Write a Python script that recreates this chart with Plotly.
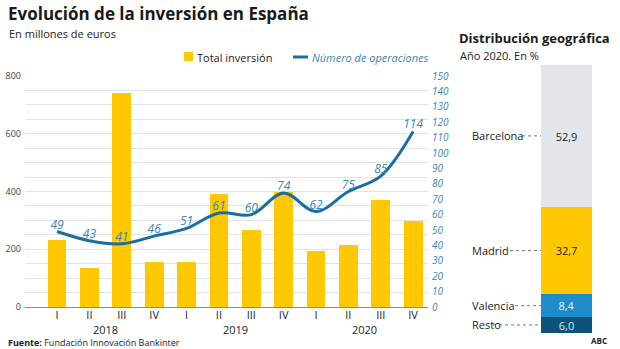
import numpy as np
import plotly.graph_objects as go

# Quarterly investment (millions of euros) and number of deals
quarters = ["I", "II", "III", "IV"] * 3
years = ["2018", "2019", "2020"]
inversion = [232, 135, 742, 157, 157, 390, 268, 399, 194, 214, 371, 299]
operaciones = [49, 43, 41, 46, 51, 61, 60, 74, 62, 75, 85, 114]

# Geographic distribution 2020 (%), bottom to top
regiones = ["Resto", "Valencia", "Madrid", "Barcelona"]
porcentajes = [6.0, 8.4, 32.7, 52.9]
colores_region = ["#0B5378", "#1C8CCB", "#FFC800", "#E3E6EA"]
texto_region = ["#DDEBF5", "#E8F3FA", "#222222", "#222222"]

W, H = 620, 349
FONT = "Open Sans"
YELLOW = "#FFC800"
LINE_BLUE = "#1B6E9F"
TEXT_BLUE = "#3A86B8"


def px(x):
    return x / W


def py(y):
    return 1 - y / H


xpos = list(range(len(inversion)))

fig = go.Figure()

fig.add_trace(go.Bar(
    x=xpos, y=inversion, marker=dict(color=YELLOW, line=dict(width=0)),
    width=0.58, xaxis="x", yaxis="y", showlegend=False, hoverinfo="skip",
))

fig.add_trace(go.Scatter(
    x=xpos, y=operaciones, mode="lines+text", line=dict(color=LINE_BLUE, width=3, shape="spline", smoothing=1.0),
    text=[str(v) for v in operaciones], textposition="top center",
    textfont=dict(family=FONT, size=12, color=TEXT_BLUE, style="italic"),
    xaxis="x", yaxis="y3", showlegend=False, hoverinfo="skip", cliponaxis=False,
))

# Stacked distribution bar
for reg, val, col, tcol in zip(regiones, porcentajes, colores_region, texto_region):
    fig.add_trace(go.Bar(
        x=[0], y=[val], marker=dict(color=col, line=dict(width=0)), width=1,
        text=[val], texttemplate="%{y:.1f}", textposition="inside", insidetextanchor="middle",
        textangle=0, constraintext="none", textfont=dict(family=FONT, size=11, color=tcol),
        xaxis="x2", yaxis="y2", showlegend=False, hoverinfo="skip", name=reg,
    ))

annotations = []
shapes = []

# Titles
annotations += [
    dict(text="<b>Evolución de la inversión en España</b>", x=px(7), y=py(13), xanchor="left", yanchor="middle",
         font=dict(family=FONT, size=17, color="#1a1a1a")),
    dict(text="En millones de euros", x=px(8), y=py(33), xanchor="left", yanchor="middle",
         font=dict(family=FONT, size=11, color="#222222")),
    dict(text="<b>Distribución geográfica</b>", x=px(458), y=py(38), xanchor="left", yanchor="middle",
         font=dict(family=FONT, size=13, color="#1a1a1a")),
    dict(text="Año 2020. En %", x=px(459), y=py(55), xanchor="left", yanchor="middle",
         font=dict(family=FONT, size=11, color="#222222")),
    dict(text="<b>Fuente:</b> Fundación Innovación Bankinter", x=px(7), y=py(342), xanchor="left", yanchor="middle",
         font=dict(family=FONT, size=9, color="#222222")),
    dict(text="<b>ABC</b>", x=px(608), y=py(340), xanchor="right", yanchor="middle",
         font=dict(family=FONT, size=8, color="#222222")),
]

# Legend
shapes.append(dict(type="rect", xref="paper", yref="paper", x0=px(184), x1=px(193), y0=py(61), y1=py(52),
                   fillcolor=YELLOW, line=dict(width=0)))
annotations.append(dict(text="Total inversión", x=px(196), y=py(57), xanchor="left", yanchor="middle",
                        font=dict(family=FONT, size=11, color="#222222")))
shapes.append(dict(type="line", xref="paper", yref="paper", x0=px(293), x1=px(308), y0=py(57), y1=py(57),
                   line=dict(color=LINE_BLUE, width=3)))
annotations.append(dict(text="<i>Número de operaciones</i>", x=px(311), y=py(57), xanchor="left", yanchor="middle",
                        font=dict(family=FONT, size=11, color=TEXT_BLUE)))

# Year labels under each group of quarters
for i, yr in enumerate(years):
    annotations.append(dict(text=yr, x=4 * i + 1.5, xref="x", y=py(329), yref="paper",
                            xanchor="center", yanchor="middle", showarrow=False,
                            font=dict(family=FONT, size=11, color="#222222")))

# Region labels with dotted leaders
mids = np.cumsum(porcentajes) - np.array(porcentajes) / 2
leader_start = {"Resto": 493, "Valencia": 515, "Madrid": 510, "Barcelona": 522}
for reg, m in zip(regiones, mids):
    annotations.append(dict(text=reg, x=px(471), xref="paper", y=m, yref="y2", xanchor="left", yanchor="middle",
                            font=dict(family=FONT, size=11, color="#222222")))
    shapes.append(dict(type="line", xref="paper", yref="y2", x0=px(leader_start[reg]), x1=px(541), y0=m, y1=m,
                       line=dict(color="#777777", width=1, dash="dot")))

for a in annotations:
    a.setdefault("xref", "paper")
    a.setdefault("yref", "paper")
    a.setdefault("showarrow", False)
    a["borderpad"] = 0

fig.update_layout(
    width=W, height=H, margin=dict(l=0, r=0, t=0, b=0, autoexpand=False),
    paper_bgcolor="white", plot_bgcolor="white",
    separators=",.", barmode="stack", bargap=0,
    font=dict(family=FONT, color="#222222"),
    annotations=annotations, shapes=shapes,
    xaxis=dict(domain=[px(25), px(428)], range=[-0.99, 11.46], tickmode="array", tickvals=xpos, ticktext=quarters,
               showgrid=False, zeroline=False, showline=False, ticks="", automargin=False,
               tickfont=dict(family=FONT, size=11, color="#222222"), fixedrange=True),
    yaxis=dict(domain=[42 / H, 273 / H], range=[0, 800], dtick=200, showgrid=True, gridcolor="#E2E2E2", gridwidth=1,
               minor=dict(dtick=50, showgrid=True, gridcolor="#E2E2E2", gridwidth=1),
               zeroline=True, zerolinecolor="#8A8A8A", zerolinewidth=1, showline=False, ticks="", automargin=False,
               tickfont=dict(family=FONT, size=9, color="#444444"), ticklabelstandoff=3),
    yaxis3=dict(overlaying="y", side="right", range=[0, 150], dtick=10, showgrid=False, zeroline=False,
                showline=False, ticks="", anchor="x", automargin=False,
                tickfont=dict(family=FONT, size=10, color=TEXT_BLUE, style="italic"), ticklabelstandoff=3),
    xaxis2=dict(domain=[px(541), px(592)], range=[-0.5, 0.5], visible=False, anchor="y2", automargin=False),
    yaxis2=dict(domain=[16 / H, 284 / H], range=[0, 100], visible=False, anchor="x2", automargin=False),
)

fig.write_html("out.html")
